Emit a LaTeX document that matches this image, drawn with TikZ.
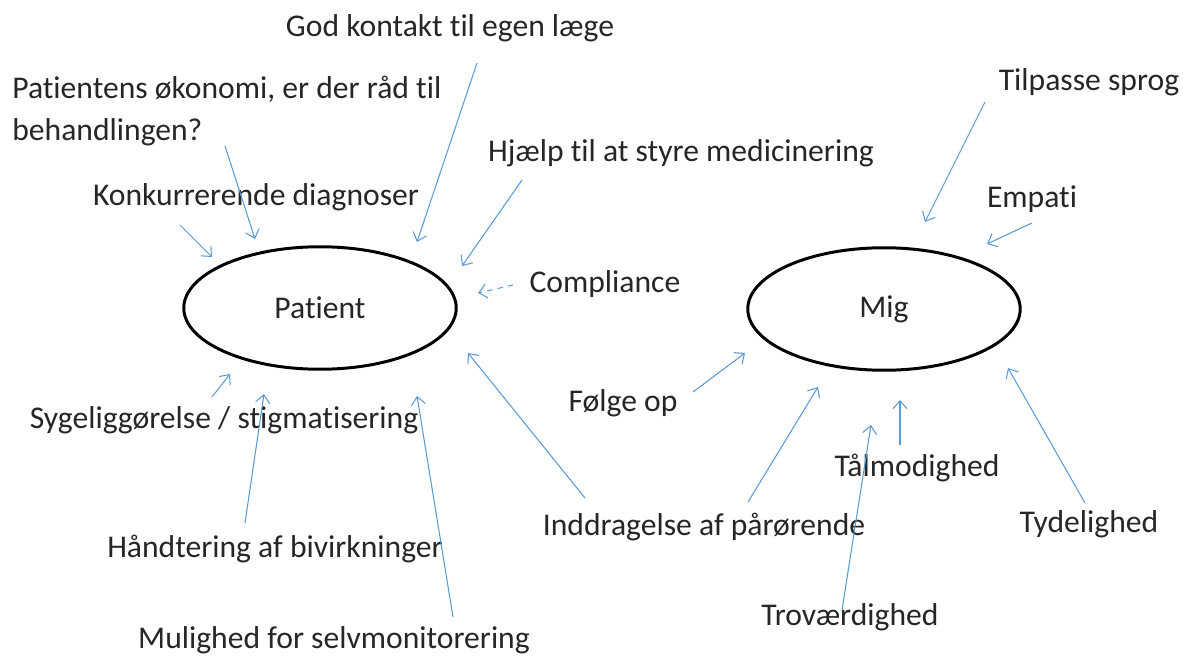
\documentclass[tikz,border=0pt]{standalone}
\usepackage{fontspec}
\setmainfont{Carlito}[Ligatures={NoCommon}]
\usetikzlibrary{shapes.geometric,arrows.meta}

\tikzset{
	felt/.style={ellipse, draw=black, line width=1.7pt, minimum width=5.45cm, minimum height=2.45cm, inner sep=0pt},
	tekst/.style={inner sep=0pt, text=black!85, font=\fontsize{18}{24.4}\selectfont},
	pil/.style={draw={rgb,255:red,91;green,155;blue,213}, line width=0.6pt, -{Straight Barb[length=4.5pt,width=8pt]}}
}

\begin{document}
\begin{tikzpicture}[x=0.02cm, y=-0.02cm]
		\useasboundingbox (0,0) rectangle (1183,656);
		% de to felter
		\node[felt, tekst] (patient) at (320,308) {Patient};
		\node[felt, tekst] (mig) at (884,309) {Mig};

		% tekster omkring patient
		\node[tekst] (kontakt) at (450,28) {God kontakt til egen læge};
		\node[tekst, align=left, anchor=west] (okonomi) at (12,111) {Patientens økonomi, er der råd til\\behandlingen?};
		\node[tekst] (diagnoser) at (256,197) {Konkurrerende diagnoser};
		\node[tekst] (medicin) at (681,153) {Hjælp til at styre medicinering};
		\node[tekst] (compliance) at (605,284) {Compliance};
		\node[tekst] (stigma) at (224,420) {Sygeliggørelse / stigmatisering};
		\node[tekst] (bivirk) at (275,549) {Håndtering af bivirkninger};
		\node[tekst] (selvmon) at (334,640) {Mulighed for selvmonitorering};
		\node[tekst] (inddrag) at (704,527) {Inddragelse af pårørende};

		% tekster omkring mig
		\node[tekst] (sprog) at (1089,82) {Tilpasse sprog};
		\node[tekst] (empati) at (1032,199) {Empati};
		\node[tekst] (folge) at (623,403) {Følge op};
		\node[tekst] (talmod) at (917,468) {Tålmodighed};
		\node[tekst] (tydelig) at (1089,524) {Tydelighed};
		\node[tekst] (trovaerd) at (850,617) {Troværdighed};

		% endepunkter for pilene
		\coordinate (kontakt-t) at (477,63);   \coordinate (kontakt-h) at (417,242);
		\coordinate (okonomi-t) at (225,146);  \coordinate (okonomi-h) at (255,239);
		\coordinate (diagnoser-t) at (180,225); \coordinate (diagnoser-h) at (212,257);
		\coordinate (medicin-t) at (522,180);  \coordinate (medicin-h) at (462,266);
		\coordinate (compliance-t) at (513,285); \coordinate (compliance-h) at (478,293);
		\coordinate (stigma-t) at (212,397);   \coordinate (stigma-h) at (230,374);
		\coordinate (bivirk-t) at (245,523);   \coordinate (bivirk-h) at (264,394);
		\coordinate (selvmon-t) at (453,617);  \coordinate (selvmon-h) at (417,396);
		\coordinate (inddrag-t) at (585,498);  \coordinate (inddrag-h) at (468,353);
		\coordinate (inddrag-t2) at (748,502); \coordinate (inddrag-h2) at (818,387);
		\coordinate (folge-t) at (693,392);    \coordinate (folge-h) at (745,353);
		\coordinate (sprog-t) at (985,102);    \coordinate (sprog-h) at (925,222);
		\coordinate (empati-t) at (1032,223);  \coordinate (empati-h) at (987,244);
		\coordinate (talmod-t) at (900,445);   \coordinate (talmod-h) at (900,400);
		\coordinate (trovaerd-t) at (842,610); \coordinate (trovaerd-h) at (871,425);
		\coordinate (tydelig-t) at (1085,503); \coordinate (tydelig-h) at (1008,368);

		% pile mod patient
		\draw[pil] (kontakt-t) -- (kontakt-h);
		\draw[pil] (okonomi-t) -- (okonomi-h);
		\draw[pil] (diagnoser-t) -- (diagnoser-h);
		\draw[pil] (medicin-t) -- (medicin-h);
		\draw[pil, dashed] (compliance-t) -- (compliance-h);
		\draw[pil] (stigma-t) -- (stigma-h);
		\draw[pil] (bivirk-t) -- (bivirk-h);
		\draw[pil] (selvmon-t) -- (selvmon-h);
		\draw[pil] (inddrag-t) -- (inddrag-h);

		% pile mod mig
		\draw[pil] (inddrag-t2) -- (inddrag-h2);
		\draw[pil] (folge-t) -- (folge-h);
		\draw[pil] (sprog-t) -- (sprog-h);
		\draw[pil] (empati-t) -- (empati-h);
		\draw[pil] (talmod-t) -- (talmod-h);
		\draw[pil] (trovaerd-t) -- (trovaerd-h);
		\draw[pil] (tydelig-t) -- (tydelig-h);
	\end{tikzpicture}
\end{document}
